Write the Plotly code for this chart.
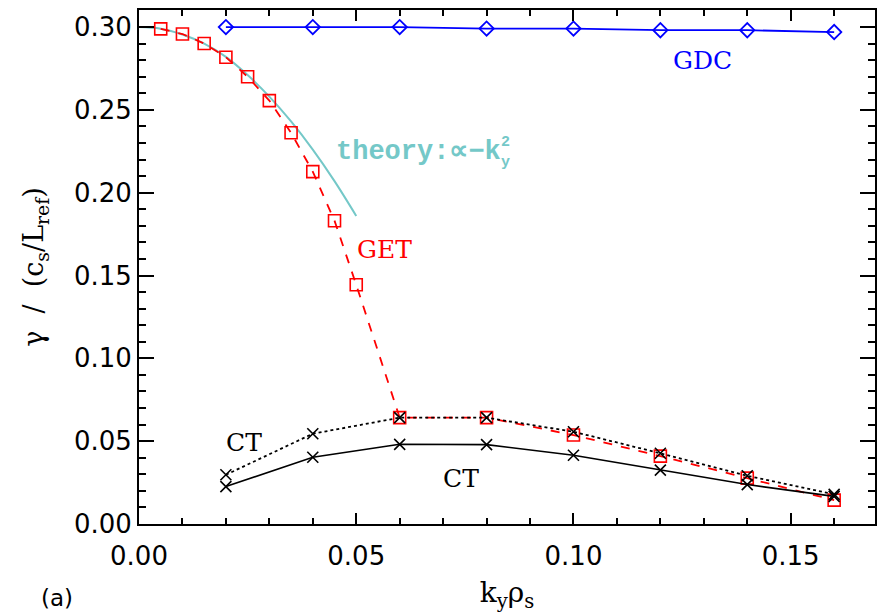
import plotly.graph_objects as go

# ---- data ----
k_get = [0.005, 0.01, 0.015, 0.02, 0.025, 0.03, 0.035, 0.04, 0.045, 0.05,
         0.06, 0.08, 0.10, 0.12, 0.14, 0.16]
g_get = [0.2989, 0.2958, 0.2901, 0.2818, 0.2700, 0.2556, 0.2362, 0.2127, 0.1831, 0.1444,
         0.0642, 0.0642, 0.0537, 0.0410, 0.0277, 0.0144]

k_ct = [0.02, 0.04, 0.06, 0.08, 0.10, 0.12, 0.14, 0.16]
g_ct_dot = [0.0297, 0.0545, 0.0642, 0.0642, 0.0557, 0.0427, 0.0291, 0.0179]
g_ct_solid = [0.0226, 0.0403, 0.0481, 0.0479, 0.0415, 0.0325, 0.0238, 0.0167]

k_gdc = [0.02, 0.04, 0.06, 0.08, 0.10, 0.12, 0.14, 0.16]
g_gdc = [0.3000, 0.3000, 0.3000, 0.2991, 0.2991, 0.2981, 0.2981, 0.2970]

k_th = [0.0, 0.005, 0.01, 0.015, 0.02, 0.025, 0.03, 0.035, 0.04, 0.045, 0.05]
g_th = [0.300, 0.299, 0.2955, 0.290, 0.282, 0.271, 0.258, 0.243, 0.226, 0.207, 0.186]

x_range = [0.0, 0.1694]
y_range = [0.0, 0.3103]

RED = "#ff0000"
BLUE = "#0000ff"
CYAN = "#74c8c8"
BLACK = "#000000"

fig = go.Figure()

fig.add_trace(go.Scatter(x=k_th, y=g_th, mode="lines", line=dict(color=CYAN, width=2, shape="spline"),
                         showlegend=False))
fig.add_trace(go.Scatter(x=k_gdc, y=g_gdc, mode="lines+markers",
                         line=dict(color=BLUE, width=1.8),
                         marker=dict(symbol="diamond-open", size=11, color=BLUE, line=dict(width=1.8)),
                         showlegend=False))
fig.add_trace(go.Scatter(x=k_get, y=g_get, mode="lines+markers",
                         line=dict(color=RED, width=1.8, dash="dash"),
                         marker=dict(symbol="square-open", size=12, color=RED, line=dict(width=1.6)),
                         showlegend=False))
fig.add_trace(go.Scatter(x=k_ct, y=g_ct_dot, mode="lines+markers",
                         line=dict(color=BLACK, width=1.8, dash="dot"),
                         marker=dict(symbol="x-thin-open", size=11, color=BLACK, line=dict(width=1.6, color=BLACK)),
                         showlegend=False))
fig.add_trace(go.Scatter(x=k_ct, y=g_ct_solid, mode="lines+markers",
                         line=dict(color=BLACK, width=1.6),
                         marker=dict(symbol="x-thin-open", size=11, color=BLACK, line=dict(width=1.6, color=BLACK)),
                         showlegend=False))

serif = "DejaVu Serif"
mono = "Liberation Mono"
ann = [
    dict(x=0.1297, y=0.2797, text="GDC", font=dict(family=serif, size=25, color=BLUE)),
    dict(x=0.0565, y=0.1656, text="GET", font=dict(family=serif, size=25, color=RED)),
    dict(x=0.0242, y=0.0490, text="CT", font=dict(family=serif, size=25, color=BLACK)),
    dict(x=0.0742, y=0.0273, text="CT", font=dict(family=serif, size=25, color=BLACK)),
    dict(x=0.0449, y=0.2245, text="<b>theory:∝−k</b>", xanchor="left",
         font=dict(family=mono, size=27, color=CYAN)),
    dict(x=0.0829, y=0.2245, text="<b>2</b><br><b>y</b>", xanchor="left",
         font=dict(family=mono, size=15, color=CYAN)),
    dict(x=-0.111, y=-0.143, xref="paper", yref="paper", text="(a)",
         font=dict(family="DejaVu Sans", size=23, color=BLACK)),
]
for a in ann:
    a.setdefault("showarrow", False)
    a.setdefault("xanchor", "center")
    a.setdefault("yanchor", "middle")
    a.setdefault("xref", "x")
    a.setdefault("yref", "y")
fig.update_layout(annotations=ann)

axis_common = dict(showline=True, linecolor=BLACK, linewidth=2, mirror="ticks",
                   ticks="inside", tickcolor=BLACK, tickwidth=1.8,
                   showgrid=False, zeroline=False, tickformat=".2f", dtick=0.05, tick0=0,
                   tickfont=dict(family="DejaVu Sans", size=26, color=BLACK))

fig.update_xaxes(range=x_range, ticklen=11, ticklabelstandoff=8,
                 minor=dict(dtick=0.01, ticks="inside", ticklen=6, tickcolor=BLACK, tickwidth=1.5, showgrid=False),
                 title=dict(text="k<sub>y</sub>ρ<sub>s</sub>", font=dict(family=serif, size=28, color=BLACK), standoff=19),
                 **axis_common)
fig.update_yaxes(range=y_range, ticklen=15,
                 minor=dict(dtick=0.01, ticks="inside", ticklen=7, tickcolor=BLACK, tickwidth=1.5, showgrid=False),
                 title=dict(text="γ  /  (c<sub>s</sub>/L<sub>ref</sub>)", font=dict(family=serif, size=27, color=BLACK), standoff=22),
                 **axis_common)

fig.update_layout(width=879, height=613, plot_bgcolor="white", paper_bgcolor="white",
                  margin=dict(l=139, r=2, t=10, b=89))

fig.write_html("out.html")
